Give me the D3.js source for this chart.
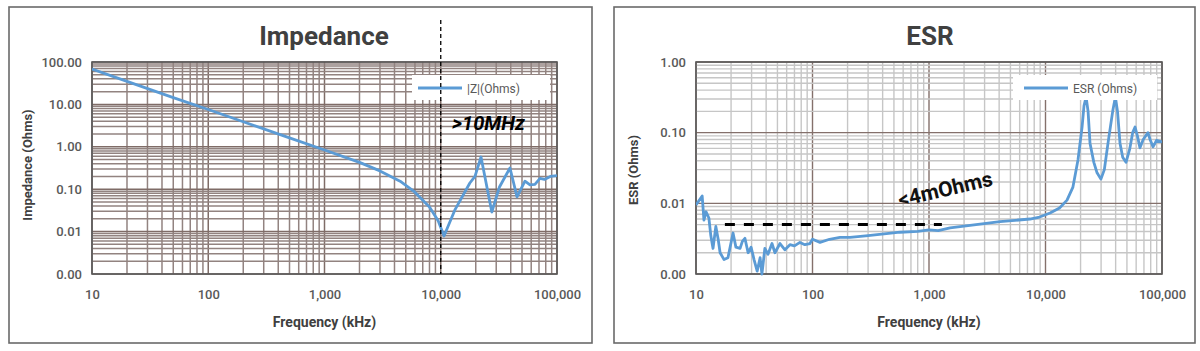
<!DOCTYPE html>
<html>
<head>
<meta charset="utf-8">
<script src="https://cdn.jsdelivr.net/npm/d3@7"></script>
<style>
  body { margin: 0; background: #fff; }
  svg text { font-family: Roboto, "Noto Sans", sans-serif; }
</style>
</head>
<body>
<svg id="chart" width="1200" height="351"></svg>
<script>
// impedance |Z| (ohms) against frequency (kHz)
const impFreq = [10, 20, 50, 100, 200, 500, 1000, 2000, 3000, 4470, 6000, 8000, 9500, 10670,
  13200, 17800, 19700, 22200, 27500, 32000, 39400, 45300, 53000, 58600, 64600, 71400, 78000, 87600, 100000];
const impOhms = [68, 35, 14.5, 7.6, 3.9, 1.62, 0.84, 0.43, 0.27, 0.155, 0.085, 0.038, 0.018, 0.0079,
  0.032, 0.14, 0.2, 0.575, 0.029, 0.113, 0.316, 0.066, 0.155, 0.126, 0.13, 0.18, 0.17, 0.2, 0.21];

// ESR (ohms) against frequency (kHz)
const esrFreq = [10, 11.3, 11.7, 12.2, 12.9, 13.4, 14, 14.8, 15.5, 16.1, 17.4, 18.8, 20.8, 22, 23.9, 25,
  26.3, 28, 29.7, 31.5, 33.5, 35.5, 36.8, 39, 41.5, 44.9, 47.6, 52.6, 58, 64, 70, 78, 86, 95, 100, 116,
  140, 172, 210, 300, 564, 800, 1000, 1200, 1516, 4070, 7360, 8900, 10940, 13200, 15300, 17200, 19000,
  20600, 21400, 22300, 23200, 24100, 26000, 27700, 29900, 32000, 34400, 37900, 39800, 41500, 43600,
  46000, 49100, 53000, 56000, 58700, 61500, 64700, 69000, 75800, 79000, 83700, 90000, 100000];
const esrOhms = [0.0095, 0.0127, 0.0058, 0.0076, 0.0062, 0.0035, 0.0023, 0.0047, 0.0031, 0.002, 0.0016,
  0.0017, 0.0038, 0.0024, 0.0023, 0.0029, 0.0032, 0.002, 0.0024, 0.0016, 0.0011, 0.0017, 0.001, 0.0023,
  0.0019, 0.0027, 0.002, 0.0027, 0.0022, 0.0026, 0.0025, 0.0028, 0.0026, 0.0027, 0.0031, 0.0028,
  0.0031, 0.0033, 0.0033, 0.0035, 0.0039, 0.004, 0.0042, 0.0041, 0.0045, 0.0055, 0.006, 0.0064,
  0.0073, 0.0086, 0.0111, 0.017, 0.041, 0.12, 0.24, 0.32, 0.2, 0.071, 0.038, 0.027, 0.022, 0.03, 0.071,
  0.21, 0.32, 0.2, 0.071, 0.045, 0.038, 0.06, 0.1, 0.12, 0.09, 0.061, 0.08, 0.1, 0.08, 0.063, 0.078, 0.074];

const freqTicks = [10, 100, 1000, 10000, 100000];
const impTicks = [100, 10, 1, 0.1, 0.01, 0.001];
const esrTicks = [1, 0.1, 0.01, 0.001];

// annotations
const markerFreq = 10000;
const mhzLabel = { text: ">10MHz", freq: 12500, ohms: 2.5 };
const esrLimit = { from: 17.7, to: 1290, ohms: 0.005 };
const esrLabel = { text: "<4mOhms", freq: 564, ohms: 0.0089 };

const blue = "#5b9bd5";
const svg = d3.select("#chart");
const isDecade = (v) => Math.abs(Math.log10(v) - Math.round(Math.log10(v))) < 1e-6;

function drawPanel(p) {
  const g = svg.append("g");

  g.append("rect")
    .attr("x", p.box[0]).attr("y", p.box[1])
    .attr("width", p.box[2]).attr("height", p.box[3])
    .attr("fill", "#fff").attr("stroke", "#6a6a6a").attr("stroke-width", 1.6);

  const x = d3.scaleLog().domain([10, 100000]).range([p.left, p.right]);
  const y = d3.scaleLog().domain(p.yDomain).range([p.bottom, p.top]);

  // grid, minor first so decade lines sit on top
  const grid = g.append("g");
  const xs = x.ticks().sort((a, b) => isDecade(a) - isDecade(b));
  const ys = y.ticks().sort((a, b) => isDecade(a) - isDecade(b));
  grid.selectAll(".vx").data(xs).join("line")
    .attr("x1", d => x(d)).attr("x2", d => x(d))
    .attr("y1", p.top).attr("y2", p.bottom)
    .attr("stroke", d => isDecade(d) ? p.majorColor : p.minorColor)
    .attr("stroke-width", p.gridWidth);
  grid.selectAll(".hy").data(ys).join("line")
    .attr("y1", d => y(d)).attr("y2", d => y(d))
    .attr("x1", p.left).attr("x2", p.right)
    .attr("stroke", d => isDecade(d) ? p.majorColor : p.minorColor)
    .attr("stroke-width", p.gridWidth);

  // axes (labels only)
  g.append("g")
    .attr("transform", `translate(0,${p.bottom})`)
    .call(d3.axisBottom(x).tickValues(freqTicks).tickFormat(d3.format(",")).tickSize(0).tickPadding(16))
    .call(a => a.select(".domain").remove())
    .call(a => a.selectAll("text").attr("fill", "#595959").attr("font-size", 13).attr("font-weight", 500)
      .attr("font-family", "Roboto, sans-serif"));

  g.append("g")
    .attr("transform", `translate(${p.left},0)`)
    .call(d3.axisLeft(y).tickValues(p.yTicks).tickFormat(d3.format(".2f")).tickSize(0).tickPadding(10))
    .call(a => a.select(".domain").remove())
    .call(a => a.selectAll("text").attr("fill", "#595959").attr("font-size", 13).attr("font-weight", 500)
      .attr("font-family", "Roboto, sans-serif"));

  // plot frame
  g.append("rect")
    .attr("x", p.left).attr("y", p.top)
    .attr("width", p.right - p.left).attr("height", p.bottom - p.top)
    .attr("fill", "none").attr("stroke", "#5a5a5a").attr("stroke-width", 1.6);

  // series
  const clipId = "clip-" + p.id;
  g.append("clipPath").attr("id", clipId)
    .append("rect")
    .attr("x", p.left).attr("y", p.top - 2)
    .attr("width", p.right - p.left).attr("height", p.bottom - p.top + 4);

  const line = d3.line()
    .x(i => x(p.freq[i]))
    .y(i => y(p.ohms[i]));

  g.append("path")
    .datum(d3.range(p.freq.length))
    .attr("clip-path", `url(#${clipId})`)
    .attr("d", line)
    .attr("fill", "none")
    .attr("stroke", blue)
    .attr("stroke-width", 2.8)
    .attr("stroke-linejoin", "round");

  // legend
  const lg = g.append("g");
  lg.append("rect")
    .attr("x", p.legend[0]).attr("y", p.top + 13)
    .attr("width", p.legend[1]).attr("height", 25)
    .attr("fill", "#fff");
  lg.append("line")
    .attr("x1", p.legend[0] + p.legend[2]).attr("x2", p.legend[0] + p.legend[2] + 44)
    .attr("y1", p.top + 26).attr("y2", p.top + 26)
    .attr("stroke", blue).attr("stroke-width", 2.8);
  lg.append("text")
    .attr("x", p.legend[0] + p.legend[2] + 49).attr("y", p.top + 30.5)
    .attr("fill", "#595959").attr("font-size", 12)
    .text(p.legendText);

  // titles
  g.append("text")
    .attr("x", p.titleX).attr("y", 45)
    .attr("text-anchor", "middle")
    .attr("fill", "#404040").attr("font-size", 26).attr("font-weight", 700)
    .text(p.title);

  g.append("text")
    .attr("x", (p.left + p.right) / 2).attr("y", p.bottom + 53)
    .attr("text-anchor", "middle")
    .attr("fill", "#404040").attr("font-size", 14).attr("font-weight", 700)
    .text("Frequency (kHz)");

  g.append("text")
    .attr("transform", `translate(${p.yLabelX},${p.yLabelY}) rotate(-90)`)
    .attr("text-anchor", "middle")
    .attr("fill", "#404040").attr("font-size", 13).attr("font-weight", 700)
    .text(p.yLabel);

  return { g, x, y };
}

const imp = drawPanel({
  id: "imp",
  box: [9, 7, 583, 336],
  left: 92, right: 557, top: 62, bottom: 274,
  yDomain: [0.001, 100], yTicks: impTicks,
  freq: impFreq, ohms: impOhms,
  majorColor: "#7f6c67", minorColor: "#928380", gridWidth: 1.5,
  legend: [412, 138, 6], legendText: "|Z|(Ohms)",
  title: "Impedance", titleX: 324,
  yLabel: "Impedance (Ohms)", yLabelX: 32, yLabelY: 165
});

const esr = drawPanel({
  id: "esr",
  box: [614, 7, 581, 336],
  left: 696, right: 1162, top: 62, bottom: 274,
  yDomain: [0.001, 1], yTicks: esrTicks,
  freq: esrFreq, ohms: esrOhms,
  majorColor: "#84706b", minorColor: "#c6c6c6", gridWidth: 1.4,
  legend: [1013, 144, 11], legendText: "ESR (Ohms)",
  title: "ESR", titleX: 930,
  yLabel: "ESR (Ohms)", yLabelX: 638, yLabelY: 170
});

// impedance annotations
imp.g.append("line")
  .attr("x1", imp.x(markerFreq)).attr("x2", imp.x(markerFreq))
  .attr("y1", 20).attr("y2", imp.y(0.001))
  .attr("stroke", "#000").attr("stroke-width", 1.3).attr("stroke-dasharray", "4,3");

imp.g.append("text")
  .attr("x", imp.x(mhzLabel.freq)).attr("y", imp.y(mhzLabel.ohms))
  .attr("font-family", "'Liberation Sans', Arial, sans-serif")
  .attr("font-size", 20).attr("font-weight", 700).attr("font-style", "italic")
  .attr("fill", "#000")
  .text(mhzLabel.text);

// esr annotations
esr.g.append("line")
  .attr("x1", esr.x(esrLimit.from)).attr("x2", esr.x(esrLimit.to))
  .attr("y1", esr.y(esrLimit.ohms)).attr("y2", esr.y(esrLimit.ohms))
  .attr("stroke", "#000").attr("stroke-width", 3).attr("stroke-dasharray", "10,9");

esr.g.append("text")
  .attr("transform", `translate(${esr.x(esrLabel.freq)},${esr.y(esrLabel.ohms)}) rotate(-13)`)
  .attr("font-family", "'Liberation Sans', Arial, sans-serif")
  .attr("font-size", 21).attr("font-weight", 700)
  .attr("fill", "#111")
  .text(esrLabel.text);
</script>
</body>
</html>
